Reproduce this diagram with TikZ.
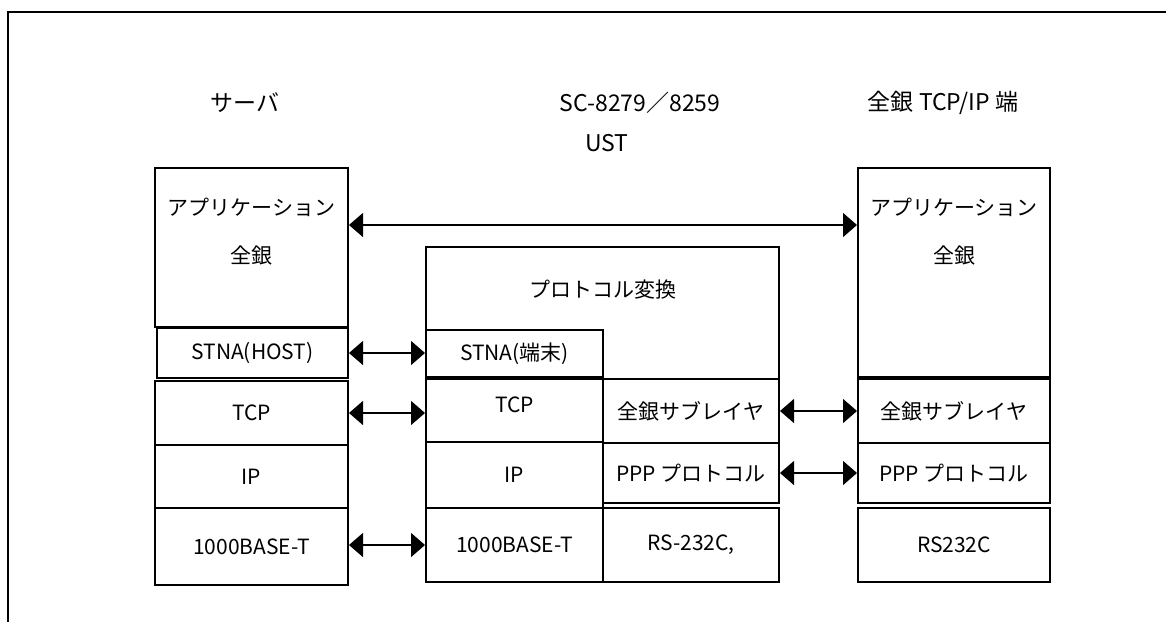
\documentclass[tikz,border=0pt]{standalone}
\usepackage{fontspec}
\setmainfont{Noto Sans CJK JP}
\usetikzlibrary{arrows.meta,positioning}

\begin{document}
\begin{tikzpicture}
    [
      x=1pt, y=-1pt,
      layer/.style={draw, line width=2pt, rectangle, inner sep=0pt,
        font=\fontsize{21}{25}\selectfont},
      txt/.style={inner sep=0pt, font=\fontsize{21}{25}\selectfont},
      head/.style={inner sep=0pt, font=\fontsize{23}{28}\selectfont},
      post/.style={{Triangle[length=14pt,width=24pt]}-{Triangle[length=14pt,width=24pt]}, line width=1.4pt},
    ]
    \useasboundingbox (0,0) rectangle (1166,622);
    \draw [line width=2.2pt] (1166,12) -- (8,12) -- (8,622);

    % column titles
    \node (hserv) [head] at (245,103) {サーバ};
    \node (hust)  [head] at (640,103) {SC-8279／8259};
    \node (hust2) [head] at (607,143) {UST};
    \node (hterm) [head] at (943,103) {全銀 TCP/IP 端};

    % server stack
    \node (appL)  [layer, minimum width=193pt, minimum height=159pt] at (251.5,247.5) {};
    \node (appLa) [txt] at (251.5,207) {アプリケーション};
    \node (appLb) [txt] at (251.5,256) {全銀};
    \node (stnaH) [layer, minimum width=191pt, minimum height=50pt] at (252.5,353) {STNA(HOST)};
    \node (tcpL)  [layer, minimum width=193pt, minimum height=64pt] at (251.5,413) {TCP};
    \node (ipL)   [layer, minimum width=193pt, minimum height=63pt] at (251.5,476.5) {IP};
    \node (baseL) [layer, minimum width=193pt, minimum height=77pt] at (251.5,546.5) {1000BASE-T};

    % UST stack
    \node (conv)  [layer, minimum width=353pt, minimum height=132pt] at (602.5,313) {};
    \node (convt) [txt] at (603,290) {プロトコル変換};
    \node (stnaT) [layer, minimum width=177pt, minimum height=47pt] at (514.5,353.5) {STNA(端末)};
    \node (tcpM)  [layer, minimum width=177pt, minimum height=63pt, text depth=12pt] at (514.5,410.5) {TCP};
    \node (ipM)   [layer, minimum width=177pt, minimum height=66pt] at (514.5,475) {IP};
    \node (baseM) [layer, minimum width=177pt, minimum height=74pt] at (514.5,545) {1000BASE-T};
    \node (subM)  [layer, minimum width=176pt, minimum height=64pt] at (691,411) {全銀サブレイヤ};
    \node (pppM)  [layer, minimum width=176pt, minimum height=60pt] at (691,473) {PPP プロトコル};
    \node (rsM)   [layer, minimum width=176pt, minimum height=74pt] at (691,545) {RS-232C,};

    % terminal stack
    \node (appR)  [layer, minimum width=192pt, minimum height=209pt] at (954,272.5) {};
    \node (appRa) [txt] at (954,207) {アプリケーション};
    \node (appRb) [txt] at (954,256) {全銀};
    \node (subR)  [layer, minimum width=192pt, minimum height=64pt] at (954,411) {全銀サブレイヤ};
    \node (pppR)  [layer, minimum width=192pt, minimum height=60pt] at (954,473) {PPP プロトコル};
    \node (rsR)   [layer, minimum width=192pt, minimum height=74pt] at (954,545) {RS232C};

    \draw [post] ([yshift=22.5pt]appL.east) -- ([yshift=22.5pt]appL.east -| appR.west);
    \draw [post] (stnaH.east) -- (stnaH.east -| stnaT.west);
    \draw [post] (tcpL.east) -- (tcpL.east -| tcpM.west);
    \draw [post] (baseM.west -| baseL.east) -- (baseM.west);
    \draw [post] (subM.east) -- (subR.west);
    \draw [post] (pppM.east) -- (pppR.west);

  \end{tikzpicture}
\end{document}
